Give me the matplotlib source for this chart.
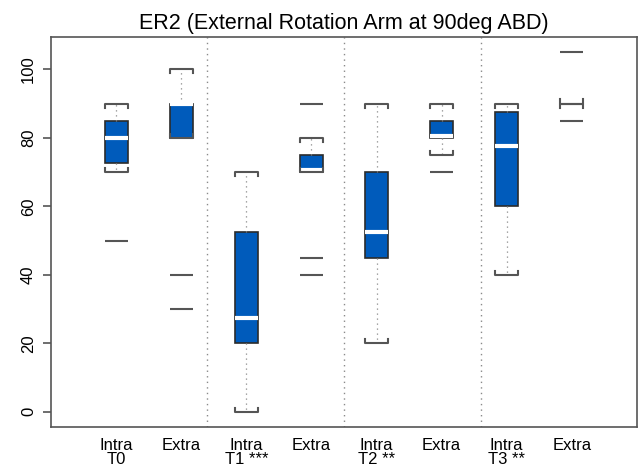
import matplotlib
matplotlib.use("Agg")
import matplotlib.pyplot as plt

# box statistics (one entry per box, left to right)
labels = ["Intra\nT0", "Extra", "Intra\nT1 ***", "Extra",
          "Intra\nT2 **", "Extra", "Intra\nT3 **", "Extra"]
whislo = [70, 80, 0, 70, 20, 75, 40, 90]
q1 = [72.5, 80, 20, 70, 45, 80, 60, 90]
med = [80, 90, 27.5, 70.5, 52.5, 80.5, 77.5, 90]
q3 = [85, 90, 52.5, 75, 70, 85, 87.5, 90]
whishi = [90, 100, 70, 80, 90, 90, 90, 90]
outliers = [[50], [40, 30], [], [90, 45, 40], [], [70], [], [105, 85]]
separators = [2.4, 4.5, 6.6]
yticks = [0, 20, 40, 60, 80, 100]

BLUE = "#005bbb"
EDGE = "#2b2b2b"
GREY = "#555555"
DOT = "#8a8a8a"
WIDTH = 0.35
TICK = 1.2   # height of the bracket ends on the caps, data units

plt.rcParams["font.family"] = ["Liberation Sans", "DejaVu Sans"]
fig = plt.figure(figsize=(6.4, 4.68), dpi=100)
ax = fig.add_axes([0.080, 0.088, 0.915, 0.832])

pos = list(range(1, len(labels) + 1))
stats = [dict(label=l, whislo=a, q1=b, med=c, q3=d, whishi=e, fliers=[])
         for l, a, b, c, d, e in zip(labels, whislo, q1, med, q3, whishi)]
ax.bxp(stats, positions=pos, widths=WIDTH, patch_artist=True,
       showcaps=False, showfliers=False,
       boxprops=dict(facecolor=BLUE, edgecolor=EDGE, linewidth=1.2),
       medianprops=dict(color="white", linewidth=3, solid_capstyle="butt"),
       whiskerprops=dict(color=DOT, linewidth=0.9, linestyle=(0, (1, 3))))

# R-style bracket caps
h = WIDTH / 2
for x, lo, hi in zip(pos, whislo, whishi):
    ax.plot([x - h, x - h, x + h, x + h], [hi - TICK, hi, hi, hi - TICK],
            color=GREY, lw=1.5, zorder=3)
    ax.plot([x - h, x - h, x + h, x + h], [lo + TICK, lo, lo, lo + TICK],
            color=GREY, lw=1.5, zorder=3)

# outliers drawn as short dashes
for x, vals in zip(pos, outliers):
    for v in vals:
        ax.hlines(v, x - h, x + h, color=GREY, lw=1.5, zorder=3)

for s in separators:
    ax.axvline(s, color=DOT, lw=1, linestyle=(0, (1, 3)), zorder=1)

ax.set_xlim(0, 9)
ax.set_ylim(-4.4, 109.3)
ax.set_yticks(yticks)
ax.set_yticklabels([str(t) for t in yticks], rotation=90, va="center")
ax.set_xticks(pos)
ax.set_xticklabels(labels, linespacing=0.9)
ax.tick_params(axis="y", length=6, width=1.2, color=GREY, labelsize=12, pad=5)
ax.tick_params(axis="x", length=0, labelsize=12, pad=8)
for sp in ax.spines.values():
    sp.set_color(GREY)
    sp.set_linewidth(1.2)

ax.set_title("ER2 (External Rotation Arm at 90deg ABD)", fontsize=15.5, pad=6)

fig.savefig("out.png", dpi=100, facecolor="white")
